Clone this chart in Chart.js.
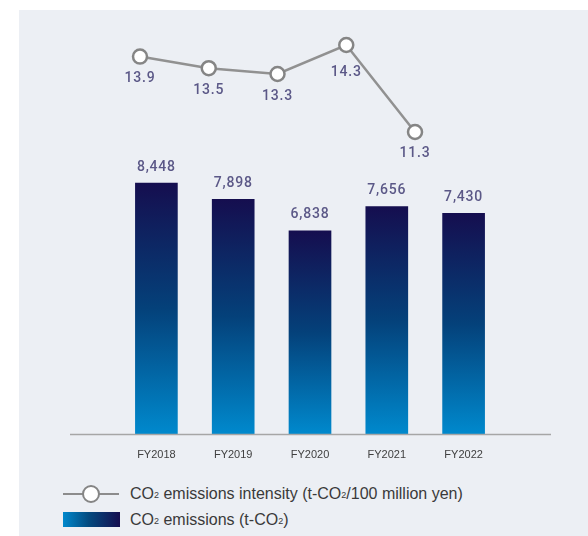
<!DOCTYPE html>
<html>
<head>
<meta charset="utf-8">
<script src="https://cdn.jsdelivr.net/npm/chart.js@4.4.1/dist/chart.umd.min.js"></script>
<style>
  html, body { margin: 0; padding: 0; background: #fff; }
  #wrap { position: relative; width: 588px; height: 536px; overflow: hidden; }
  #panel { position: absolute; left: 19px; top: 10px; right: 0; bottom: 0; background: #eceff4; }
  #box { position: absolute; left: 0; top: 0; width: 588px; height: 480px; }
  .legend { position: absolute; left: 63px; font-family: "Liberation Sans", Arial, sans-serif; font-size: 16px; color: #3a3a3a; }
  .legend .item { position: absolute; left: 0; white-space: nowrap; height: 16px; }
  .legend .txt { position: absolute; left: 67px; top: 0; line-height: 16px; }
  .legend sub { font-size: 9px; vertical-align: 1px; }
  .lineKey { position: absolute; left: 0; top: 7px; width: 56px; height: 2px; background: #8c8c8c; }
  .dotKey { position: absolute; left: 19px; top: -1px; width: 14px; height: 14px; border-radius: 50%; background: #fff; border: 2.5px solid #858585; }
  .barKey { position: absolute; left: 0; top: 0; width: 57px; height: 15px; background: linear-gradient(to right, #0088cc, #034a7f 45%, #150e4f); }
</style>
</head>
<body>
<div id="wrap">
  <div id="panel"></div>
  <div id="box"><canvas id="co2Chart"></canvas></div>
  <div class="legend">
    <div class="item" style="top:486px">
      <div class="lineKey"></div><div class="dotKey"></div>
      <div class="txt">CO<sub>2</sub> emissions intensity (t-CO<sub>2</sub>/100 million yen)</div>
    </div>
    <div class="item" style="top:512px">
      <div class="barKey"></div>
      <div class="txt">CO<sub>2</sub> emissions (t-CO<sub>2</sub>)</div>
    </div>
  </div>
</div>
<script>
// Datos del gráfico
const years = ['FY2018', 'FY2019', 'FY2020', 'FY2021', 'FY2022'];
const emissions = [8448, 7898, 6838, 7656, 7430];
const intensity = [13.9, 13.5, 13.3, 14.3, 11.3];

// Degradado vertical por barra (oscuro arriba, azul claro abajo)
function barGradient(context) {
  const chart = context.chart;
  if (!chart.chartArea || context.dataIndex === undefined) return '#034a7f';
  const yScale = chart.scales.y;
  const top = yScale.getPixelForValue(context.raw);
  const bottom = yScale.getPixelForValue(0);
  const g = chart.ctx.createLinearGradient(0, top, 0, bottom);
  g.addColorStop(0, '#150e4f');
  g.addColorStop(0.5, '#04417a');
  g.addColorStop(1, '#0089cd');
  return g;
}

// Línea base gris bajo las barras
const baseLine = {
  id: 'baseLine',
  afterDatasetsDraw(chart) {
    const { ctx, chartArea } = chart;
    ctx.save();
    ctx.strokeStyle = '#a6a6a6';
    ctx.lineWidth = 1.5;
    ctx.beginPath();
    ctx.moveTo(70, chartArea.bottom + 0.5);
    ctx.lineTo(551, chartArea.bottom + 0.5);
    ctx.stroke();
    ctx.restore();
  }
};

// Etiquetas de valores
const valueLabels = {
  id: 'valueLabels',
  afterDatasetsDraw(chart) {
    const ctx = chart.ctx;
    ctx.save();
    ctx.font = '500 14px Roboto, "Liberation Sans", sans-serif';
    ctx.fillStyle = '#5b5887';
    ctx.textAlign = 'center';
    ctx.textBaseline = 'middle';
    if ('letterSpacing' in ctx) ctx.letterSpacing = '0.8px';
    chart.getDatasetMeta(1).data.forEach((el, i) => {
      ctx.fillText(emissions[i].toLocaleString('en-US'), el.x, el.y - 16);
    });
    const lineOffsets = [22, 22, 23, 28, 22];
    chart.getDatasetMeta(0).data.forEach((el, i) => {
      ctx.fillText(intensity[i].toFixed(1), el.x, el.y + lineOffsets[i]);
    });
    ctx.restore();
  }
};

const ctx = document.getElementById('co2Chart').getContext('2d');
const co2Chart = new Chart(ctx, {
  data: {
    labels: years,
    datasets: [
      {
        type: 'line',
        label: 'CO2 emissions intensity',
        data: intensity.map((v, i) => ({ x: i, y: v })),
        xAxisID: 'x2',
        yAxisID: 'y2',
        borderColor: '#919191',
        borderWidth: 2.5,
        pointRadius: 7,
        pointBorderWidth: 2.5,
        pointBorderColor: '#858585',
        pointBackgroundColor: '#ffffff',
        tension: 0,
        order: 0
      },
      {
        type: 'bar',
        label: 'CO2 emissions',
        data: emissions,
        xAxisID: 'x',
        yAxisID: 'y',
        backgroundColor: barGradient,
        borderWidth: 0,
        barThickness: 42,
        grouped: false,
        order: 1
      }
    ]
  },
  options: {
    responsive: true,
    maintainAspectRatio: false,
    animation: false,
    layout: { padding: { left: 118, right: 86, top: 20, bottom: 6 } },
    plugins: {
      legend: { display: false },
      tooltip: { enabled: false }
    },
    scales: {
      x: {
        type: 'category',
        offset: true,
        grid: { display: false, drawTicks: false },
        border: { display: false },
        ticks: {
          padding: 14,
          color: '#404040',
          font: { family: '"Liberation Sans", Arial, sans-serif', size: 11 }
        },
        afterFit(scale) { scale.height = 40; }
      },
      x2: {
        type: 'linear',
        display: false,
        min: -0.32,
        max: 5.265
      },
      y: {
        display: false,
        min: 0,
        max: 13935
      },
      y2: {
        display: false,
        min: 0.886,
        max: 15.162
      }
    }
  },
  plugins: [baseLine, valueLabels]
});
</script>
</body>
</html>
